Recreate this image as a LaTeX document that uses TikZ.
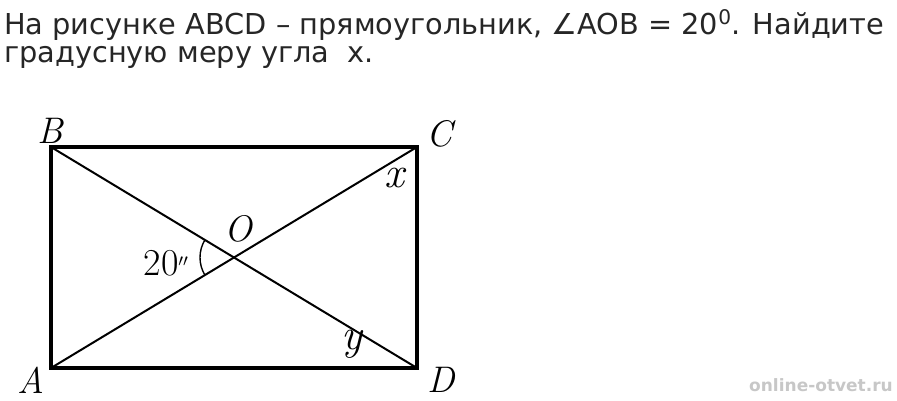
\documentclass[tikz,border=0pt]{standalone}
\usepackage{fontspec}
\newfontfamily\taskfont{DejaVu Sans}
\tikzset{
    mynode/.style={font=\rmfamily\itshape\fontsize{37}{37}\selectfont,inner sep=0},
    tasknode/.style={font=\taskfont\fontsize{28.8}{28.8}\selectfont,text=black!85,inner sep=0,anchor=base west}
}

\begin{document}
\begin{tikzpicture}[x=1pt,y=-1pt]
        \useasboundingbox (0,0) rectangle (897,400);
        % task text
        \node[tasknode] (line1) at (4,34) {На рисунке ABCD – прямоугольник, ∠AOB = 20\textsuperscript{0}. Найдите};
        \node[tasknode] (line2) at (4,62) {градусную меру угла\ \ x.};

        % vertices
        \coordinate (A) at (51,368);
        \coordinate (B) at (51,147);
        \coordinate (C) at (417,147);
        \coordinate (D) at (417,368);
        \coordinate (O) at (234,257.5);

        % rectangle and diagonals
        \draw[line width=3.2pt,line join=miter] (A) -- (B) -- (C) -- (D) -- cycle;
        \draw[line width=2pt] (A) -- (C);
        \draw[line width=2pt] (B) -- (D);
        \draw[line width=1.4pt] ([shift={(148.9:34)}]O) arc[start angle=148.9,end angle=211.1,radius=34];

        % labels
        \node[mynode] (lA) at (31,380) {A};
        \node[mynode] (lB) at (50,131) {B};
        \node[mynode] (lC) at (439,134) {C};
        \node[mynode] (lD) at (441,380) {D};
        \node[mynode] (lO) at (238,229) {O};
        \node[mynode,font=\rmfamily\itshape\fontsize{44}{44}\selectfont] (lx) at (394,178) {x};
        \node[mynode,font=\rmfamily\itshape\fontsize{44}{44}\selectfont] (ly) at (352,344) {y};
        \node[mynode,font=\rmfamily\fontsize{38}{38}\selectfont] (langle) at (166,263) {20$^{\scriptscriptstyle\prime\prime}$};

        % watermark
        \node[font=\taskfont\bfseries\fontsize{17}{17}\selectfont,text=black!22] (wm) at (821,385) {online-otvet.ru};
\end{tikzpicture}
\end{document}
